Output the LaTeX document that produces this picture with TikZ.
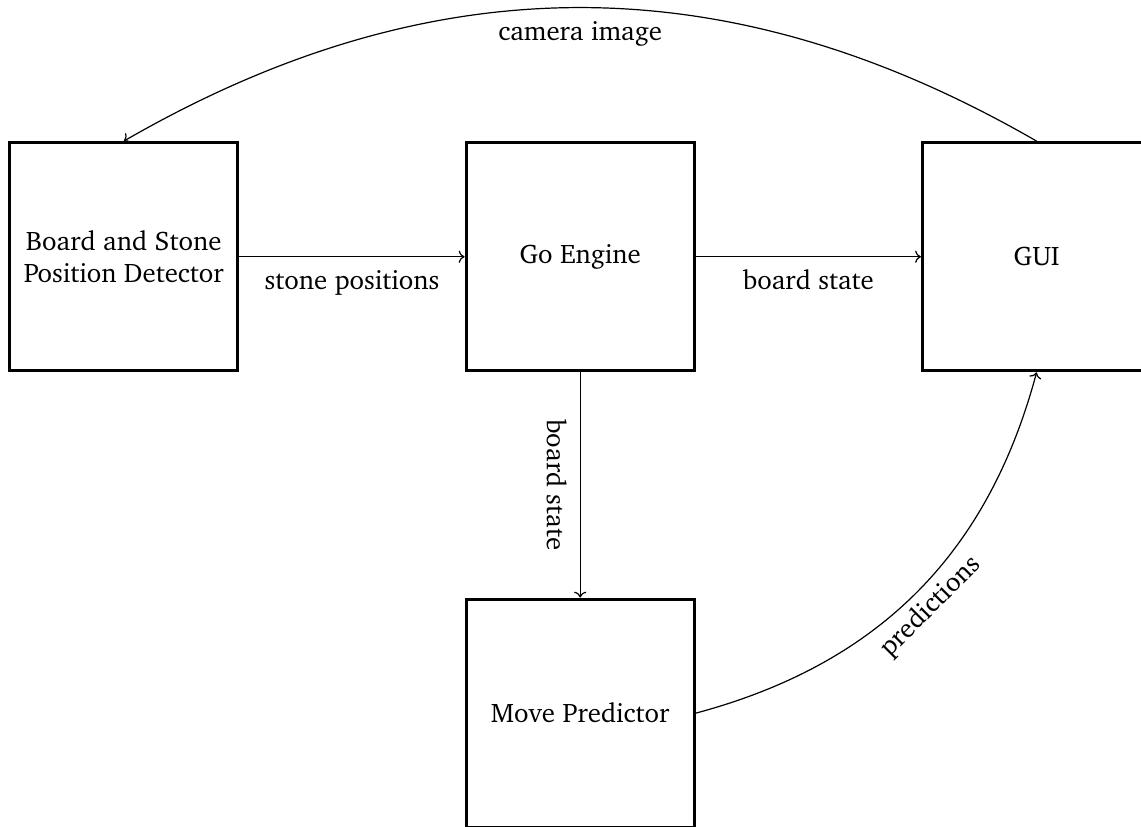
\documentclass[tikz,border=0pt]{standalone}
\usepackage[T1]{fontenc}
\usepackage{charter}
\usepackage{tikz}
\usetikzlibrary{arrows.meta,positioning,calc}

\begin{document}
\begin{tikzpicture}[every node/.style={font=\fontsize{13.4}{16}\selectfont},
  block/.style={draw, line width=1.5pt, minimum size=4cm, align=center, inner sep=2pt},
  flow/.style={->, semithick}]
\useasboundingbox (-2.17,-9.98) rectangle (17.83,4.5);
\node[block] (det)  at (0,0)  {Board and Stone\\Position Detector};
\node[block] (eng)  at (8,0)  {Go Engine};
\node[block] (gui)  at (16,0) {GUI};
\node[block] (pred) at (8,-8) {Move Predictor};
\draw[flow] (det.east) -- node[below=3pt] {stone positions} (eng.west);
\draw[flow] (eng.east) -- node[below=3pt] {board state} (gui.west);
\draw[flow] (eng.south) -- node[below=3pt, sloped] {board state} (pred.north);
\draw[flow] (pred.east) to[out=15, in=-105] node[below, sloped] {predictions} (gui.south);
\draw[flow] (gui.north) to[out=150, in=30] node[below=3pt] {camera image} (det.north);
\end{tikzpicture}
\end{document}
